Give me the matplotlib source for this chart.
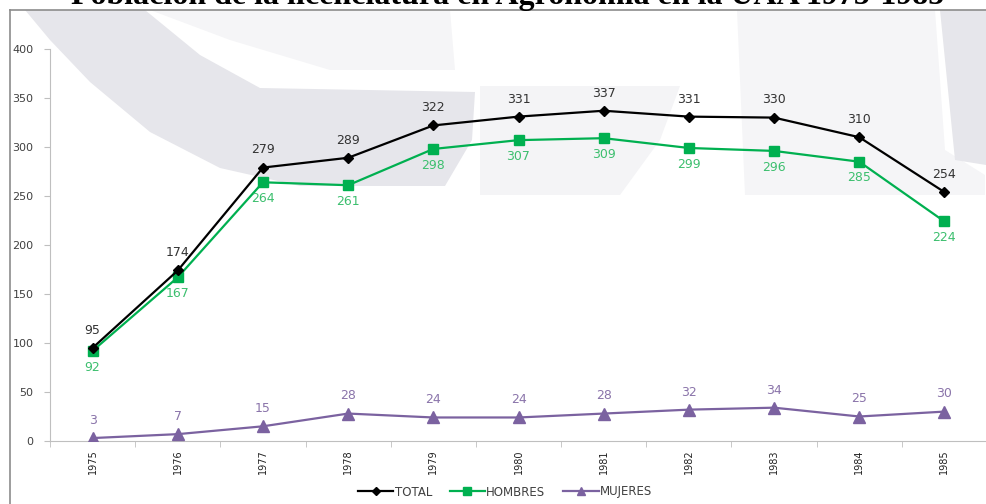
import matplotlib
matplotlib.use('Agg')
import matplotlib.pyplot as plt
from matplotlib.patches import Polygon
from matplotlib.lines import Line2D

years = ['1975', '1976', '1977', '1978', '1979', '1980', '1981', '1982', '1983', '1984', '1985']
total = [95, 174, 279, 289, 322, 331, 337, 331, 330, 310, 254]
hombres = [92, 167, 264, 261, 298, 307, 309, 299, 296, 285, 224]
mujeres = [3, 7, 15, 28, 24, 24, 28, 32, 34, 25, 30]

W, H = 986, 504
fig = plt.figure(figsize=(W / 100, H / 100), dpi=100)
fig.patch.set_facecolor('white')

def px(points):
    # pixel coords (top-left origin) -> figure fraction
    return [(x / W, 1 - y / H) for x, y in points]

# faint watermark shapes behind everything
shapes = [
    ([(25, 10), (145, 10), (200, 55), (260, 88), (475, 92), (472, 140), (445, 186),
      (300, 186), (220, 168), (150, 132), (90, 82), (50, 40)], '#e6e6eb'),
    ([(150, 10), (450, 10), (455, 70), (330, 70), (230, 40)], '#f5f5f7'),
    ([(480, 86), (680, 86), (660, 140), (620, 195), (480, 195)], '#f4f4f6'),
    ([(737, 10), (935, 10), (945, 150), (985, 175), (985, 195), (745, 195)], '#f5f5f7'),
    ([(940, 10), (986, 10), (986, 165), (955, 160)], '#e6e6eb'),
]
for pts, col in shapes:
    fig.patches.append(Polygon(px(pts), closed=True, transform=fig.transFigure,
                               facecolor=col, edgecolor='none', zorder=-5))

# outer frame
fig.add_artist(Line2D([10 / W, 10 / W], [0, 1 - 10 / H], transform=fig.transFigure,
                      color='#8c8c8c', lw=1.2))
fig.add_artist(Line2D([10 / W, 1], [1 - 10 / H, 1 - 10 / H], transform=fig.transFigure,
                      color='#8c8c8c', lw=1.2))

fig.text(508 / W, 1 - 4 / H, 'Población de la licenciatura en Agronomía en la UAA 1975-1985',
         ha='center', va='baseline', fontsize=23, fontweight='bold',
         family='Liberation Serif', color='black')

ax = fig.add_axes([50 / W, 1 - 441 / H, 937 / W, 392 / H])
ax.patch.set_alpha(0)
ax.set_zorder(2)
x = list(range(len(years)))

ax.plot(x, total, color='black', lw=1.6, marker='D', ms=5.5, label='TOTAL', zorder=4)
ax.plot(x, hombres, color='#00b050', lw=1.6, marker='s', ms=7, label='HOMBRES', zorder=3)
ax.plot(x, mujeres, color='#7b62a0', lw=1.6, marker='^', ms=8, label='MUJERES', zorder=3)

for i in x:
    ax.annotate(str(total[i]), (i, total[i]), xytext=(0, 8), textcoords='offset points',
                ha='center', va='bottom', fontsize=9, color='#333333')
    ax.annotate(str(hombres[i]), (i, hombres[i]), xytext=(0, -7), textcoords='offset points',
                ha='center', va='top', fontsize=9, color='#3cbf6e')
    ax.annotate(str(mujeres[i]), (i, mujeres[i]), xytext=(0, 8), textcoords='offset points',
                ha='center', va='bottom', fontsize=9, color='#8a74aa')

ax.set_xlim(-0.5, len(years) - 0.5)
ax.set_ylim(0, 400)
ax.set_yticks(range(0, 401, 50))
ax.set_xticks(x)
ax.set_xticklabels(years, rotation=90, fontsize=7, color='#222222')
ax.set_xticks([i - 0.5 for i in range(len(years) + 1)], minor=True)
ax.tick_params(axis='x', which='major', length=0, pad=6)
ax.tick_params(axis='x', which='minor', length=4, color='#bfbfbf', direction='out')
ax.tick_params(axis='y', length=4, color='#bfbfbf', labelsize=8, labelcolor='#404040', pad=8)

for s in ['top', 'right']:
    ax.spines[s].set_visible(False)
ax.spines['left'].set_color('#bfbfbf')
ax.spines['bottom'].set_color('#bfbfbf')

leg = ax.legend(loc='center', bbox_to_anchor=(505 / W, 1 - 492 / H), bbox_transform=fig.transFigure,
                ncol=3, frameon=False, fontsize=8.5, handlelength=3, columnspacing=1.5,
                handletextpad=0.1, markerscale=0.8)
for t in leg.get_texts():
    t.set_color('#404040')

fig.savefig('out.png', dpi=100)
